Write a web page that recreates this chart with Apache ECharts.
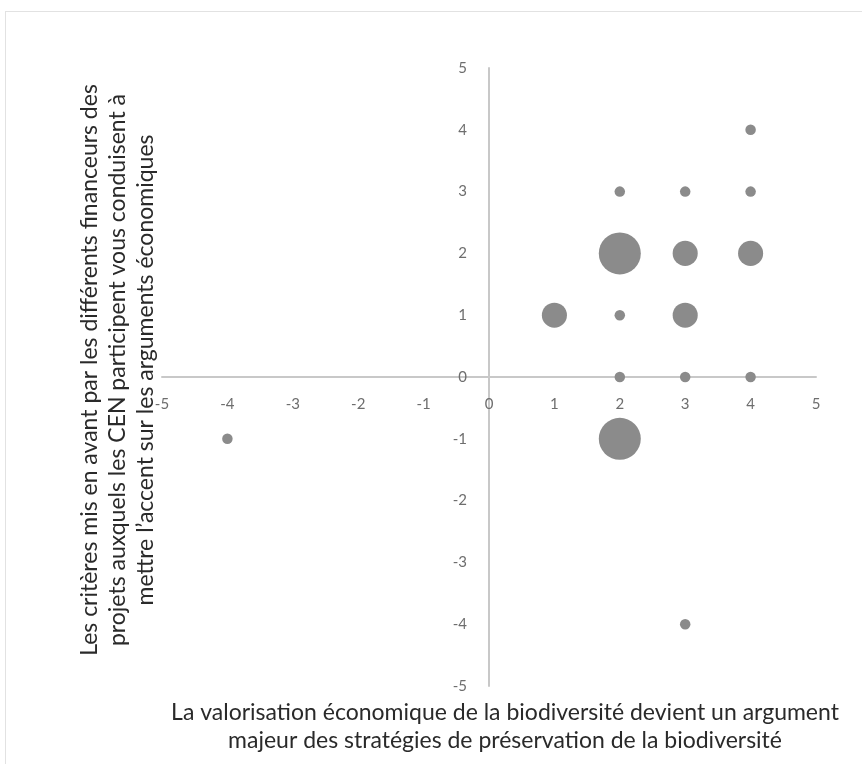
<!DOCTYPE html>
<html>
<head>
<meta charset="utf-8">
<script src="https://cdn.jsdelivr.net/npm/echarts@6/dist/echarts.min.js"></script>
<style>
html,body{margin:0;padding:0;background:#fff;}
#frame{position:absolute;left:5px;top:11px;width:870px;height:770px;border-top:1px solid #e2e2e2;border-left:1px solid #e2e2e2;}
#chart{position:absolute;left:0;top:0;width:862px;height:764px;}
</style>
</head>
<body>
<div id="frame"></div>
<div id="chart"></div>
<script>
// Data
const xValues = [-4, 2, 3, 2, 3, 4, 1, 2, 3, 2, 3, 4, 2, 3, 4, 4];
const yValues = [-1, -1, -4, 0, 0, 0, 1, 1, 1, 2, 2, 2, 3, 3, 3, 4];
const bubbleSizes = [1, 16, 1, 1, 1, 1, 5.7, 1, 5.7, 16, 5.7, 5.7, 1, 1, 1, 1];
const axisTicks = [-5, -4, -3, -2, -1, 0, 1, 2, 3, 4, 5];
const xTitleLines = [
  "La valorisation économique de la biodiversité devient un argument",
  "majeur des stratégies de préservation de la biodiversité"
];
const yTitleLines = [
  "Les critères mis en avant par les différents financeurs des",
  "projets auxquels les CEN participent vous conduisent à",
  "mettre l’accent sur les arguments économiques"
];

const points = xValues.map((x, i) => [x, yValues[i], bubbleSizes[i]]);
const FONT = 'Lato, "Open Sans", sans-serif';

const GRID = {left: 162, right: 46, top: 68, bottom: 78};
const W = 862, H = 764;
const gridW = W - GRID.left - GRID.right;
const gridH = H - GRID.top - GRID.bottom;
const minV = axisTicks[0], maxV = axisTicks[axisTicks.length - 1];
// shift the axes so that they cross at zero (labels move with them)
const xOffset = -gridH * (0 - minV) / (maxV - minV);
const yOffset = -gridW * (0 - minV) / (maxV - minV);

const chart = echarts.init(document.getElementById('chart'), null, {renderer: 'canvas'});
function axis(extra, margin) {
  return Object.assign({
    type: 'value',
    min: minV,
    max: maxV,
    interval: 1,
    splitLine: {show: false},
    axisTick: {show: false},
    axisLine: {show: true, onZero: false, lineStyle: {color: '#c8c8c8', width: 2}},
    axisLabel: {color: '#6e6e6e', fontSize: 15, fontFamily: FONT, margin: margin,
                showMinLabel: true, showMaxLabel: true}
  }, extra);
}
chart.setOption({
  animation: false,
  grid: Object.assign({containLabel: false}, GRID),
  xAxis: axis({position: 'bottom', offset: xOffset}, 20),
  yAxis: axis({position: 'left', offset: yOffset}, 22),
  series: [{
    type: 'scatter',
    data: points,
    symbolSize: v => 10.5 * Math.sqrt(v[2]),
    itemStyle: {color: '#8b8b8b', opacity: 1}
  }],
  graphic: [
    {
      type: 'text',
      x: 505, y: 727,
      style: {
        text: xTitleLines.join('\n'),
        font: '23px ' + FONT,
        fill: '#2a2a2a',
        textAlign: 'center',
        textVerticalAlign: 'middle',
        lineHeight: 28
      }
    },
    {
      type: 'text',
      x: 118, y: 370,
      rotation: Math.PI / 2,
      style: {
        text: yTitleLines.join('\n'),
        font: '23px ' + FONT,
        fill: '#2a2a2a',
        textAlign: 'center',
        textVerticalAlign: 'middle',
        lineHeight: 28
      }
    }
  ]
});
</script>
</body>
</html>
